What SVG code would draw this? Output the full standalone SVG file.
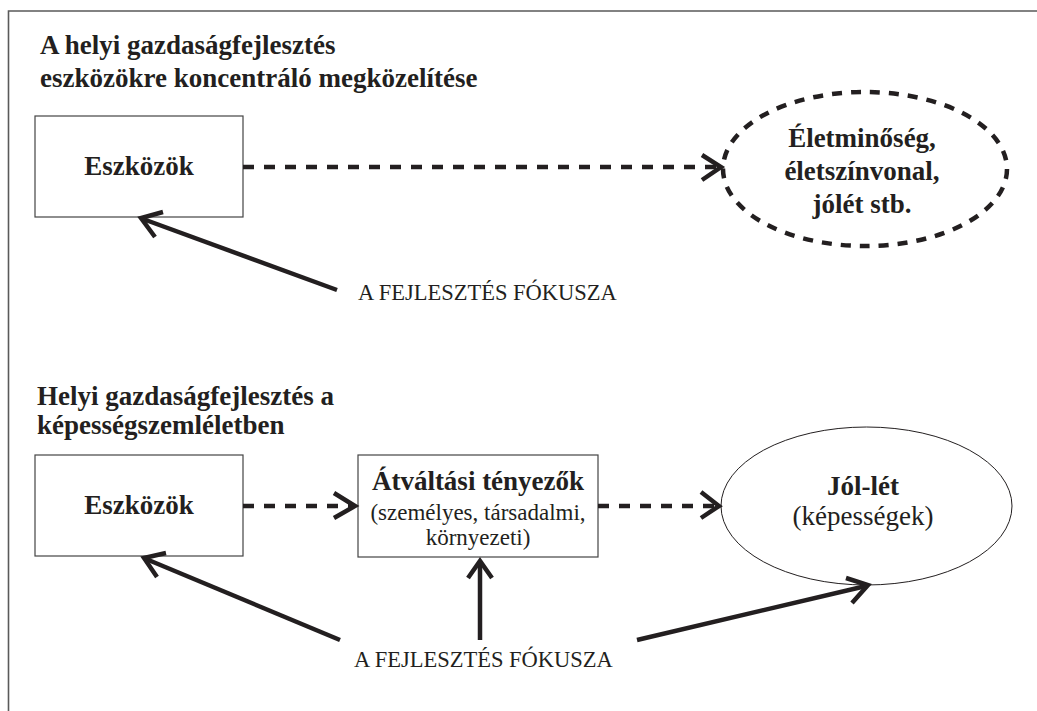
<svg xmlns="http://www.w3.org/2000/svg" width="1037" height="711" viewBox="0 0 1037 711">
<style>
.frame{fill:none;stroke:#5a5a5a;stroke-width:1.6}
.box{fill:#fff;stroke:#444;stroke-width:1.2}
.dash{fill:none;stroke:#231f20;stroke-width:4.5;stroke-dasharray:11 10}
.solid{fill:none;stroke:#231f20;stroke-width:4.5;stroke-linecap:butt}
.head{fill:none;stroke:#231f20;stroke-width:4.5;stroke-linejoin:miter}
.t{font-family:"Liberation Serif","Times New Roman",serif;fill:#231f20}
.b27{font-size:27px;font-weight:bold}
.r23{font-size:23px}
.r27{font-size:27px}
.lab{font-size:22.5px}
</style>
<rect width="1037" height="711" fill="#fff"/>
<path class="frame" d="M8.5,711 V11 H1037"/>
<text class="t b27" x="40" y="54">A helyi gazdaságfejlesztés</text>
<text class="t b27" x="40" y="87">eszközökre koncentráló megközelítése</text>
<text class="t b27" x="37" y="405">Helyi gazdaságfejlesztés a</text>
<text class="t b27" x="37" y="434">képességszemléletben</text>
<g id="n1">
<rect class="box" x="35" y="116" width="208" height="101"/>
<text class="t b27" x="139" y="175" text-anchor="middle">Eszközök</text>
</g>
<g id="n2">
<ellipse cx="865" cy="169" rx="142" ry="77" fill="none" stroke="#231f20" stroke-width="4.5" stroke-dasharray="10 9"/>
<text class="t b27" x="862" y="147" text-anchor="middle">Életminőség,</text>
<text class="t b27" x="862" y="180" text-anchor="middle">életszínvonal,</text>
<text class="t b27" x="862" y="213" text-anchor="middle">jólét stb.</text>
</g>
<g id="n3">
<text class="t lab" x="358" y="300">A FEJLESZTÉS FÓKUSZA</text>
</g>
<g id="n4">
<rect class="box" x="35" y="455" width="208" height="101"/>
<text class="t b27" x="139" y="514" text-anchor="middle">Eszközök</text>
</g>
<g id="n5">
<rect class="box" x="358" y="455" width="240" height="102"/>
<text class="t b27" x="478" y="490" text-anchor="middle">Átváltási tényezők</text>
<text class="t r23" x="478" y="520" text-anchor="middle">(személyes, társadalmi,</text>
<text class="t r23" x="478" y="545" text-anchor="middle">környezeti)</text>
</g>
<g id="n6">
<ellipse cx="866.5" cy="506" rx="145.5" ry="79" fill="none" stroke="#231f20" stroke-width="1"/>
<text class="t b27" x="863" y="495" text-anchor="middle">Jól-lét</text>
<text class="t r27" x="863" y="525" text-anchor="middle">(képességek)</text>
</g>
<g id="n7">
<text class="t lab" x="354" y="667">A FEJLESZTÉS FÓKUSZA</text>
</g>
<g id="connectors">
<line class="dash" x1="243" y1="167" x2="718" y2="167"/>
<polyline class="head" points="702,155 721,167 702,180"/>
<line class="solid" x1="337" y1="290" x2="143" y2="219"/>
<polyline class="head" points="163,212 141,218 155,237"/>
<line class="dash" x1="243" y1="506" x2="352" y2="506"/>
<polyline class="head" points="334,493 355,506 334,518"/>
<line class="dash" x1="598" y1="506" x2="716" y2="506"/>
<polyline class="head" points="701,492 719,506 701,518"/>
<line class="solid" x1="480" y1="640" x2="480" y2="561"/>
<polyline class="head" points="468,578 480,561 492,578"/>
<line class="solid" x1="340" y1="640" x2="146" y2="559"/>
<polyline class="head" points="166,553 144,558 157,577"/>
<line class="solid" x1="637" y1="640" x2="866" y2="586"/>
<polyline class="head" points="846,578 868,585 852,603"/>
</g>
</svg>
